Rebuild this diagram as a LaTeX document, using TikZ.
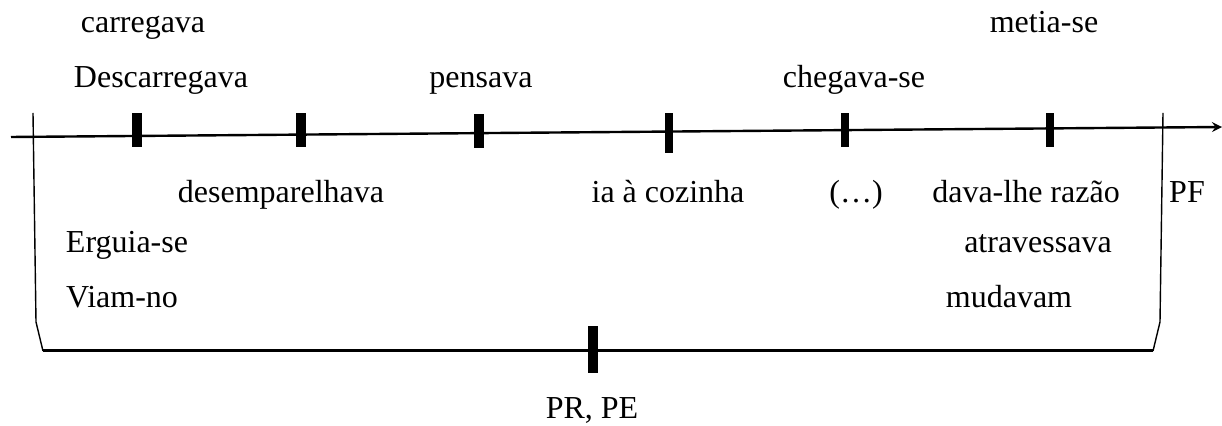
\documentclass[tikz,border=0pt]{standalone}
\usepackage{fontspec}
\setmainfont{Liberation Serif}
\usetikzlibrary{arrows}
\tikzstyle{arrow} = [line width=1.2pt,->,>=stealth]
\tikzstyle{word} = [anchor=base, inner sep=0pt, font=\fontsize{16}{19}\selectfont]
\tikzstyle{tickbar} = [rectangle, fill=black, inner sep=0pt, minimum width=5pt, minimum height=17pt]

\begin{document}
\begin{tikzpicture}[x=0.5pt,y=-0.5pt]
\useasboundingbox (0,0) rectangle (1222,426);

\coordinate (s) at (11,137);
\coordinate (e) at (1222,127);
\draw [arrow] (s) to (e);

\node [tickbar] (t1) at (137,130) {};
\node [tickbar] (t2) at (301,130) {};
\node [tickbar] (t3) at (479,131) {};
\node [tickbar, minimum width=4pt, minimum height=20pt] (t4) at (669,133) {};
\node [tickbar, minimum width=4pt] (t5) at (845,130) {};
\node [tickbar, minimum width=4pt] (t6) at (1050,130) {};

\coordinate (lt) at (33,113);
\coordinate (lb) at (43,351);
\coordinate (rb) at (1153,351);
\coordinate (rt) at (1163,113);
\draw [line width=0.7pt] (lt) -- (36,322) -- (lb);
\draw [line width=0.7pt] (rt) -- (1160,322) -- (rb);
\draw [line width=1.5pt] (lb) -- (rb);
\node [tickbar, minimum height=23.5pt] (pr) at (593,350) {};

\node [word] (w1) at (143,33) {carregava};
\node [word] (w2) at (161,88) {Descarregava};
\node [word] (w3) at (481,88) {pensava};
\node [word] (w4) at (854,88) {chegava-se};
\node [word] (w5) at (1044,33) {metia-se};

\node [word] (w6) at (281,203) {desemparelhava};
\node [word] (w7) at (668,203) {ia à cozinha};
\node [word] (w8) at (856,203) {(…)};
\node [word] (w9) at (1026,203) {dava-lhe razão};
\node [word] (pf) at (1187,203) {PF};

\node [word] (w10) at (127,253) {Erguia-se};
\node [word] (w11) at (122,308) {Viam-no};
\node [word] (w12) at (1038,253) {atravessava};
\node [word] (w13) at (1009,308) {mudavam};

\node [word] (pe) at (592,419) {PR, PE};
\end{tikzpicture}
\end{document}
